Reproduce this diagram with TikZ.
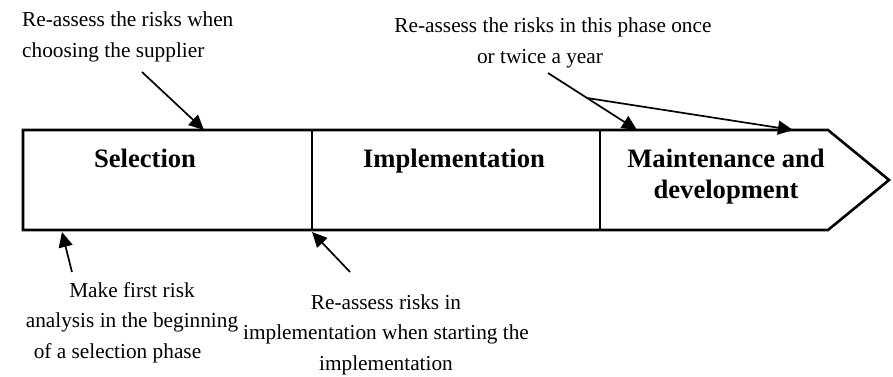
\documentclass[tikz,border=0pt]{standalone}
\usepackage{fontspec}
\setmainfont{Liberation Serif}
\usetikzlibrary{arrows.meta}
\tikzset{
  phase/.style={inner sep=0pt, align=center, font=\fontsize{26.6}{31}\selectfont\bfseries},
  note/.style={inner sep=0pt, font=\fontsize{21.3}{30.5}\selectfont},
  conn/.style={line width=1.7pt, -{Triangle[length=15pt,width=14pt]}},
  outline/.style={line width=2.6pt, line join=miter}
}
\begin{document}
\begin{tikzpicture}[x=1pt,y=-1pt]
\useasboundingbox (0,0) rectangle (893,376);
% phase arrow
\coordinate (tl) at (23,130);
\coordinate (tr) at (828,130);
\coordinate (tip) at (889,180);
\coordinate (br) at (828,230);
\coordinate (bl) at (23,230);
\draw[outline] (tl) -- (tr) -- (tip) -- (br) -- (bl) -- cycle;
\coordinate (d1t) at (312,130);
\coordinate (d1b) at (312,230);
\coordinate (d2t) at (600,130);
\coordinate (d2b) at (600,230);
\draw[outline] (d1t) -- (d1b);
\draw[outline] (d2t) -- (d2b);
% phase labels (anchor base = baseline of last line)
\node[phase, anchor=base] (sel) at (145,167) {Selection};
\node[phase, anchor=base] (imp) at (454,167) {Implementation};
\node[phase, anchor=base] (mnt) at (726,198) {Maintenance and\\development};
% notes
\node[note, align=left, anchor=base west] (n1) at (22,57) {Re-assess the risks when\\choosing the supplier};
\node[note, align=center, anchor=base] (n2) at (553,63) {Re-assess the risks in this phase once\\or twice a year\hspace*{26pt}};
\node[note, align=center, anchor=base] (n3) at (132,358) {Make first risk\\analysis in the beginning\\of a selection phase\hspace*{29pt}};
\node[note, align=center, anchor=base] (n4) at (386,370) {Re-assess risks in\\implementation when starting the\\implementation};
% connectors
\coordinate (s1) at (142,72);
\coordinate (e1) at (204,130);
\coordinate (s2) at (72,272);
\coordinate (e2) at (62,232);
\coordinate (s3) at (350,272);
\coordinate (e3) at (312,232);
\coordinate (s4) at (548,73);
\coordinate (e4) at (637,130);
\coordinate (j5) at (587,98);
\coordinate (e5) at (793,130);
\draw[conn] (s1) -- (e1);
\draw[conn] (s2) -- (e2);
\draw[conn] (s3) -- (e3);
\draw[conn] (s4) -- (e4);
\draw[conn] (j5) -- (e5);
\end{tikzpicture}
\end{document}
